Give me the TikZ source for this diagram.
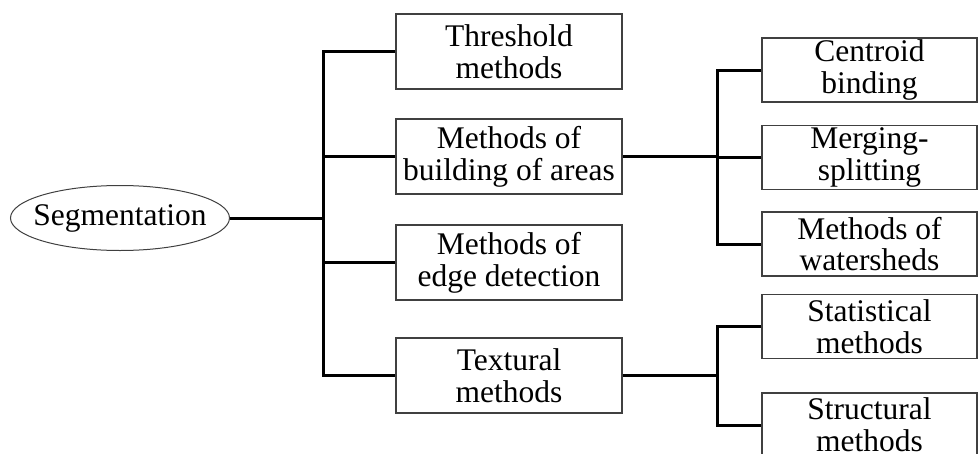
\documentclass[tikz,border=0pt]{standalone}
\usepackage{fontspec}
\setmainfont{Liberation Serif}
\usetikzlibrary{shapes.geometric}
\begin{document}
\begin{tikzpicture}[x=1pt,y=-1pt,
  lbl/.style={font=\fontsize{31.5}{31.7}\selectfont, align=center, inner sep=0pt},
  box/.style={lbl, draw=black!75, line width=1.1pt, minimum width=226pt, minimum height=75pt},
  subbox/.style={box, minimum width=215pt, minimum height=64pt},
  rootshape/.style={lbl, ellipse, draw=black!75, line width=1pt, inner xsep=-12pt, minimum width=219pt, minimum height=65pt},
  link/.style={line width=3pt}]
\useasboundingbox (0,0) rectangle (978,453);
\clip (0,0) rectangle (978,453);

% root
\node[rootshape] (seg) at (120,218) {Segmentation};

% first level
\node[box] (threshold) at (509,51.5) {Threshold\\methods};
\node[box] (building) at (509,156.5) {Methods of\\building of areas};
\node[box] (edge) at (509,262.5) {Methods of\\edge detection};
\node[box] (textural) at (509,375.5) {Textural\\methods};

% second level
\node[subbox] (centroid) at (869.5,70) {Centroid\\binding};
\node[subbox] (merging) at (869.5,157.5) {Merging-\\splitting};
\node[subbox] (watersheds) at (869.5,244) {Methods of\\watersheds};
\node[subbox] (statistical) at (869.5,326.5) {Statistical\\methods};
\node[subbox] (structural) at (869.5,425) {Structural\\methods};

% trunk positions
\coordinate (t) at (323,0);
\coordinate (s) at (717,0);

% root to first level
\draw[link] (seg.east) -- (seg.east -| t);
\draw[link] (threshold.west) -| (textural.west -| t) -- (textural.west);
\draw[link] (building.west) -- (building.west -| t);
\draw[link] (edge.west) -- (edge.west -| t);

% region building branch
\draw[link] (building.east) -- (building.east -| s);
\draw[link] (centroid.west) -| (watersheds.west -| s) -- (watersheds.west);
\draw[link] (merging.west) -- (merging.west -| s);

% texture branch
\draw[link] (textural.east) -- (textural.east -| s);
\draw[link] (statistical.west) -| (structural.west -| s) -- (structural.west);
\end{tikzpicture}
\end{document}
